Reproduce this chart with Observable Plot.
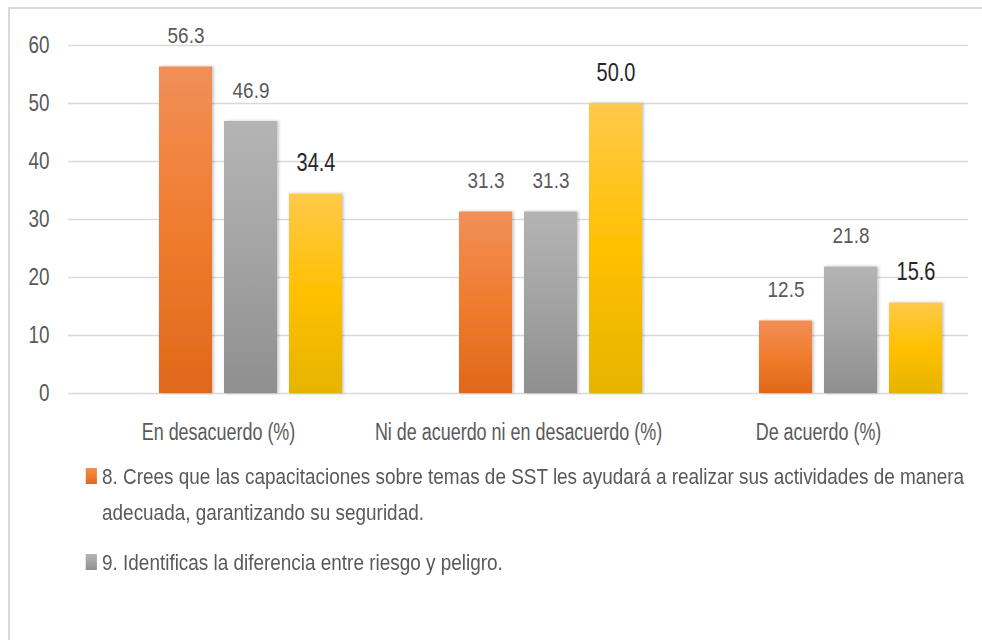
<!DOCTYPE html>
<html><head><meta charset="utf-8">
<script src="https://cdn.jsdelivr.net/npm/d3@7"></script>
<script src="https://cdn.jsdelivr.net/npm/@observablehq/plot@0.6"></script>
<style>
html,body{margin:0;padding:0;background:#fff;}
body{width:982px;height:640px;overflow:hidden;position:relative;font-family:"Liberation Sans",Arial,sans-serif;}
#frame{position:absolute;left:8px;top:7px;width:990px;height:650px;border-top:2px solid #d9d9d9;border-left:2px solid #d9d9d9;box-sizing:border-box;}
#chart{position:absolute;left:0;top:0;}
#legend{position:absolute;left:84px;top:459px;width:1028px;color:#595959;font-size:22px;line-height:36px;transform:scaleX(0.86);transform-origin:0 0;}
.item{position:relative;padding-left:21px;margin-bottom:14px;}
.sw{position:absolute;left:2px;top:9px;width:13px;height:16px;}
</style></head>
<body>
<div id="frame"></div>
<div id="chart"></div>
<div id="legend"></div>
<script>
const categories = ["En desacuerdo (%)", "Ni de acuerdo ni en desacuerdo (%)", "De acuerdo (%)"];
const seriesKeys = ["8", "9", "10"];
const slots = ["", "8", "9", "10"]; // first slot is an empty series position
const values8 = [56.3, 31.3, 12.5];
const values9 = [46.9, 31.3, 21.8];
const values10 = [34.4, 50.0, 15.6];
const legendLabels = [
  "8. Crees que las capacitaciones sobre temas de SST les ayudará a realizar sus actividades de manera adecuada, garantizando su seguridad.",
  "9. Identificas la diferencia entre riesgo y peligro."
];
const yTicks = [0, 10, 20, 30, 40, 50, 60];

const seriesValues = [values8, values9, values10];
const data = [];
categories.forEach((c, i) => seriesKeys.forEach((s, j) => data.push({cat: c, series: s, value: seriesValues[j][i]})));

const labelColor = {"8": "#595959", "9": "#595959", "10": "#262626"};
const labelSize = {"8": 22, "9": 22, "10": 25};

const chart = Plot.plot({
  width: 982, height: 450,
  marginLeft: 68, marginRight: 14, marginTop: 45, marginBottom: 57,
  style: {fontFamily: '"Liberation Sans", Arial, sans-serif', background: "transparent"},
  fx: {domain: categories, padding: 0, label: null},
  x: {domain: slots, axis: null, paddingInner: 0.18, paddingOuter: 0.363},
  y: {domain: [0, 60], label: null},
  marks: [
    Plot.gridY(yTicks, {stroke: "#d9d9d9", strokeOpacity: 1, strokeWidth: 1.6}),
    Plot.axisY(yTicks, {tickSize: 0, tickPadding: 19, fontSize: 23, fill: "#595959", label: null}),
    Plot.axisFx({anchor: "bottom", tickSize: 0, tickPadding: 30, fontSize: 23, fill: "#595959", label: null}),
    Plot.barY(data, {fx: "cat", x: "series", y: "value", fill: d => `url(#grad${d.series})`}),
    Plot.text(data, {fx: "cat", x: "series", y: "value", text: d => d.value.toFixed(1), dy: -31,
      fill: d => labelColor[d.series], fontSize: d => labelSize[d.series]})
  ]
});
document.getElementById("chart").appendChild(chart);

const svg = d3.select(chart);
const defs = svg.insert("defs", ":first-child");
const grads = {
  "8": [["0%", "#f18f58"], ["50%", "#f07c2e"], ["100%", "#e0681a"]],
  "9": [["0%", "#b4b4b4"], ["50%", "#a3a3a3"], ["100%", "#8f8f8f"]],
  "10": [["0%", "#ffc94a"], ["50%", "#ffc000"], ["100%", "#e6b400"]]
};
Object.entries(grads).forEach(([k, stops]) => {
  const g = defs.append("linearGradient").attr("id", "grad" + k).attr("x1", 0).attr("y1", 0).attr("x2", 0).attr("y2", 1);
  stops.forEach(([o, c]) => g.append("stop").attr("offset", o).attr("stop-color", c));
});
const f = defs.append("filter").attr("id", "shadow").attr("x", "-20%").attr("y", "-20%").attr("width", "150%").attr("height", "150%");
f.append("feDropShadow").attr("dx", 1.5).attr("dy", 0).attr("stdDeviation", 1.5).attr("flood-color", "#000").attr("flood-opacity", 0.25);
svg.selectAll("g[aria-label='bar'] rect").attr("filter", "url(#shadow)");

// condense text horizontally (reference uses a narrow typeface)
function condense(sel, k) {
  svg.selectAll(sel).each(function() {
    const w = this.getComputedTextLength();
    this.setAttribute("textLength", (w * k).toFixed(1));
    this.setAttribute("lengthAdjust", "spacingAndGlyphs");
  });
}
condense("g[aria-label='y-axis tick label'] text", 0.82);
condense("g[aria-label='fx-axis tick label'] text", 0.78);
svg.selectAll("g[aria-label='text'] text").each(function() {
  const fs = +this.getAttribute("font-size") || 22;
  const k = fs > 23 ? 0.8 : 0.86;
  const w = this.getComputedTextLength();
  this.setAttribute("textLength", (w * k).toFixed(1));
  this.setAttribute("lengthAdjust", "spacingAndGlyphs");
});

// legend
const legend = document.getElementById("legend");
const swatchGrad = {"8": "linear-gradient(#f18f58,#f07c2e,#e0681a)", "9": "linear-gradient(#b4b4b4,#a3a3a3,#8f8f8f)"};
legendLabels.forEach((lab, i) => {
  const d = document.createElement("div");
  d.className = "item";
  const sw = document.createElement("span");
  sw.className = "sw";
  sw.style.background = swatchGrad[seriesKeys[i]];
  d.appendChild(sw);
  d.appendChild(document.createTextNode(lab));
  legend.appendChild(d);
});
</script>
</body></html>
